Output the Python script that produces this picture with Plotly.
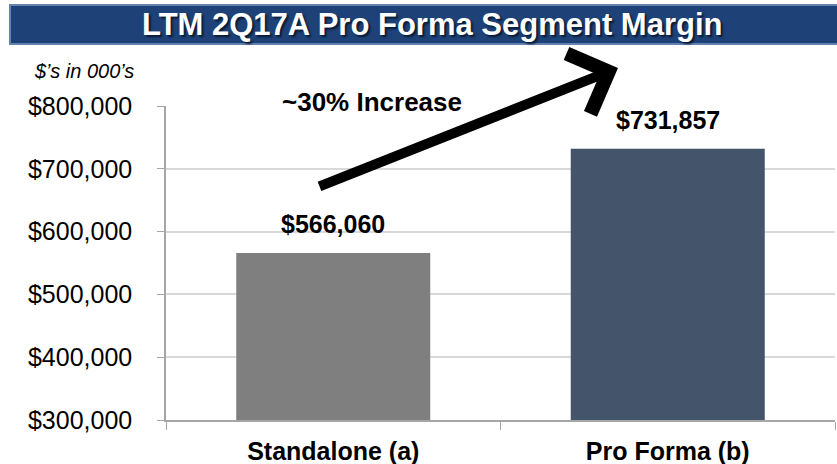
import plotly.graph_objects as go

categories = ["Standalone (a)", "Pro Forma (b)"]
values = [566060, 731857]
value_labels = ["$566,060", "$731,857"]
bar_colors = ["#7F7F7F", "#44546A"]
y_ticks = [300000, 400000, 500000, 600000, 700000, 800000]
y_tick_labels = ["$300,000", "$400,000", "$500,000", "$600,000", "$700,000", "$800,000"]
title_text = "LTM 2Q17A Pro Forma Segment Margin"
unit_text = "$\u2019s in 000\u2019s"
arrow_text = "~30% Increase"

FONT = "Liberation Sans, Arial, sans-serif"

fig = go.Figure()
fig.add_trace(go.Bar(
    x=categories, y=values, marker=dict(color=bar_colors, line=dict(width=0)),
    width=0.58, hoverinfo="skip",
))

for c, v, t in zip(categories, values, value_labels):
    fig.add_annotation(x=c, y=v, text="<b>" + t + "</b>", showarrow=False, yanchor="bottom",
                       yshift=13, font=dict(family=FONT, size=25, color="#000000"))

# title banner
fig.add_shape(type="rect", xref="paper", yref="paper",
              x0=-(166 - 10) / 669, x1=(837 - 166 + 5) / 669,
              y0=(420 - 44) / 314, y1=(420 - 5) / 314,
              fillcolor="#1E4277", line=dict(color="#6483AE", width=2), layer="above")
fig.add_annotation(xref="paper", yref="paper", x=(432 - 166) / 669, y=(420 - 24) / 314,
                   text="<b>" + title_text + "</b>", showarrow=False,
                   xanchor="center", yanchor="middle",
                   font=dict(family=FONT, size=31, color="#FFFFFF", shadow="2px 2px 2px #0A1A33"))

# units
fig.add_annotation(xref="paper", yref="paper", x=(84 - 166) / 669, y=(420 - 71) / 314,
                   text="<i>" + unit_text + "</i>", showarrow=False,
                   xanchor="center", yanchor="middle",
                   font=dict(family=FONT, size=20, color="#000000"))

# increase arrow
fig.add_annotation(xref="x domain", yref="y domain", axref="x domain", ayref="y domain",
                   x=(618 - 166) / 669, y=(420 - 68) / 314,
                   ax=(318 - 166) / 669, ay=(420 - 187) / 314,
                   text="", showarrow=True, arrowhead=4, arrowsize=1.25,
                   arrowwidth=10, arrowcolor="#000000", standoff=0)
fig.add_annotation(xref="paper", yref="paper", x=(372 - 166) / 669, y=(420 - 102) / 314,
                   text="<b>" + arrow_text + "</b>", showarrow=False,
                   xanchor="center", yanchor="middle",
                   font=dict(family=FONT, size=26, color="#000000"))

fig.update_layout(
    width=837, height=464,
    margin=dict(l=166, r=2, t=106, b=44),
    paper_bgcolor="#FFFFFF", plot_bgcolor="#FFFFFF",
    showlegend=False, bargap=0.42,
    font=dict(family=FONT, color="#000000"),
)
fig.update_xaxes(
    type="category", range=[-0.5, 1.5], automargin=False,
    showline=True, linecolor="#A6A6A6", linewidth=1.5,
    ticks="outside", tickson="boundaries", ticklen=8, tickcolor="#A6A6A6",
    tickfont=dict(family=FONT, size=25, color="#000000"),
    tickprefix="<b>", ticksuffix="</b>", ticklabelstandoff=8,
    showgrid=False, zeroline=False,
)
fig.update_yaxes(
    range=[300000, 800000], tickvals=y_ticks, ticktext=y_tick_labels, automargin=False,
    showline=True, linecolor="#A6A6A6", linewidth=1.5,
    ticks="outside", ticklen=7, tickcolor="#A6A6A6",
    tickfont=dict(family=FONT, size=25, color="#000000"),
    ticklabelstandoff=20,
    showgrid=True, gridcolor="#D9D9D9", gridwidth=1.5, zeroline=False,
)

fig.write_html("out.html", config={"displayModeBar": False},
               post_script="document.body.style.margin='0';document.body.style.padding='0';")
